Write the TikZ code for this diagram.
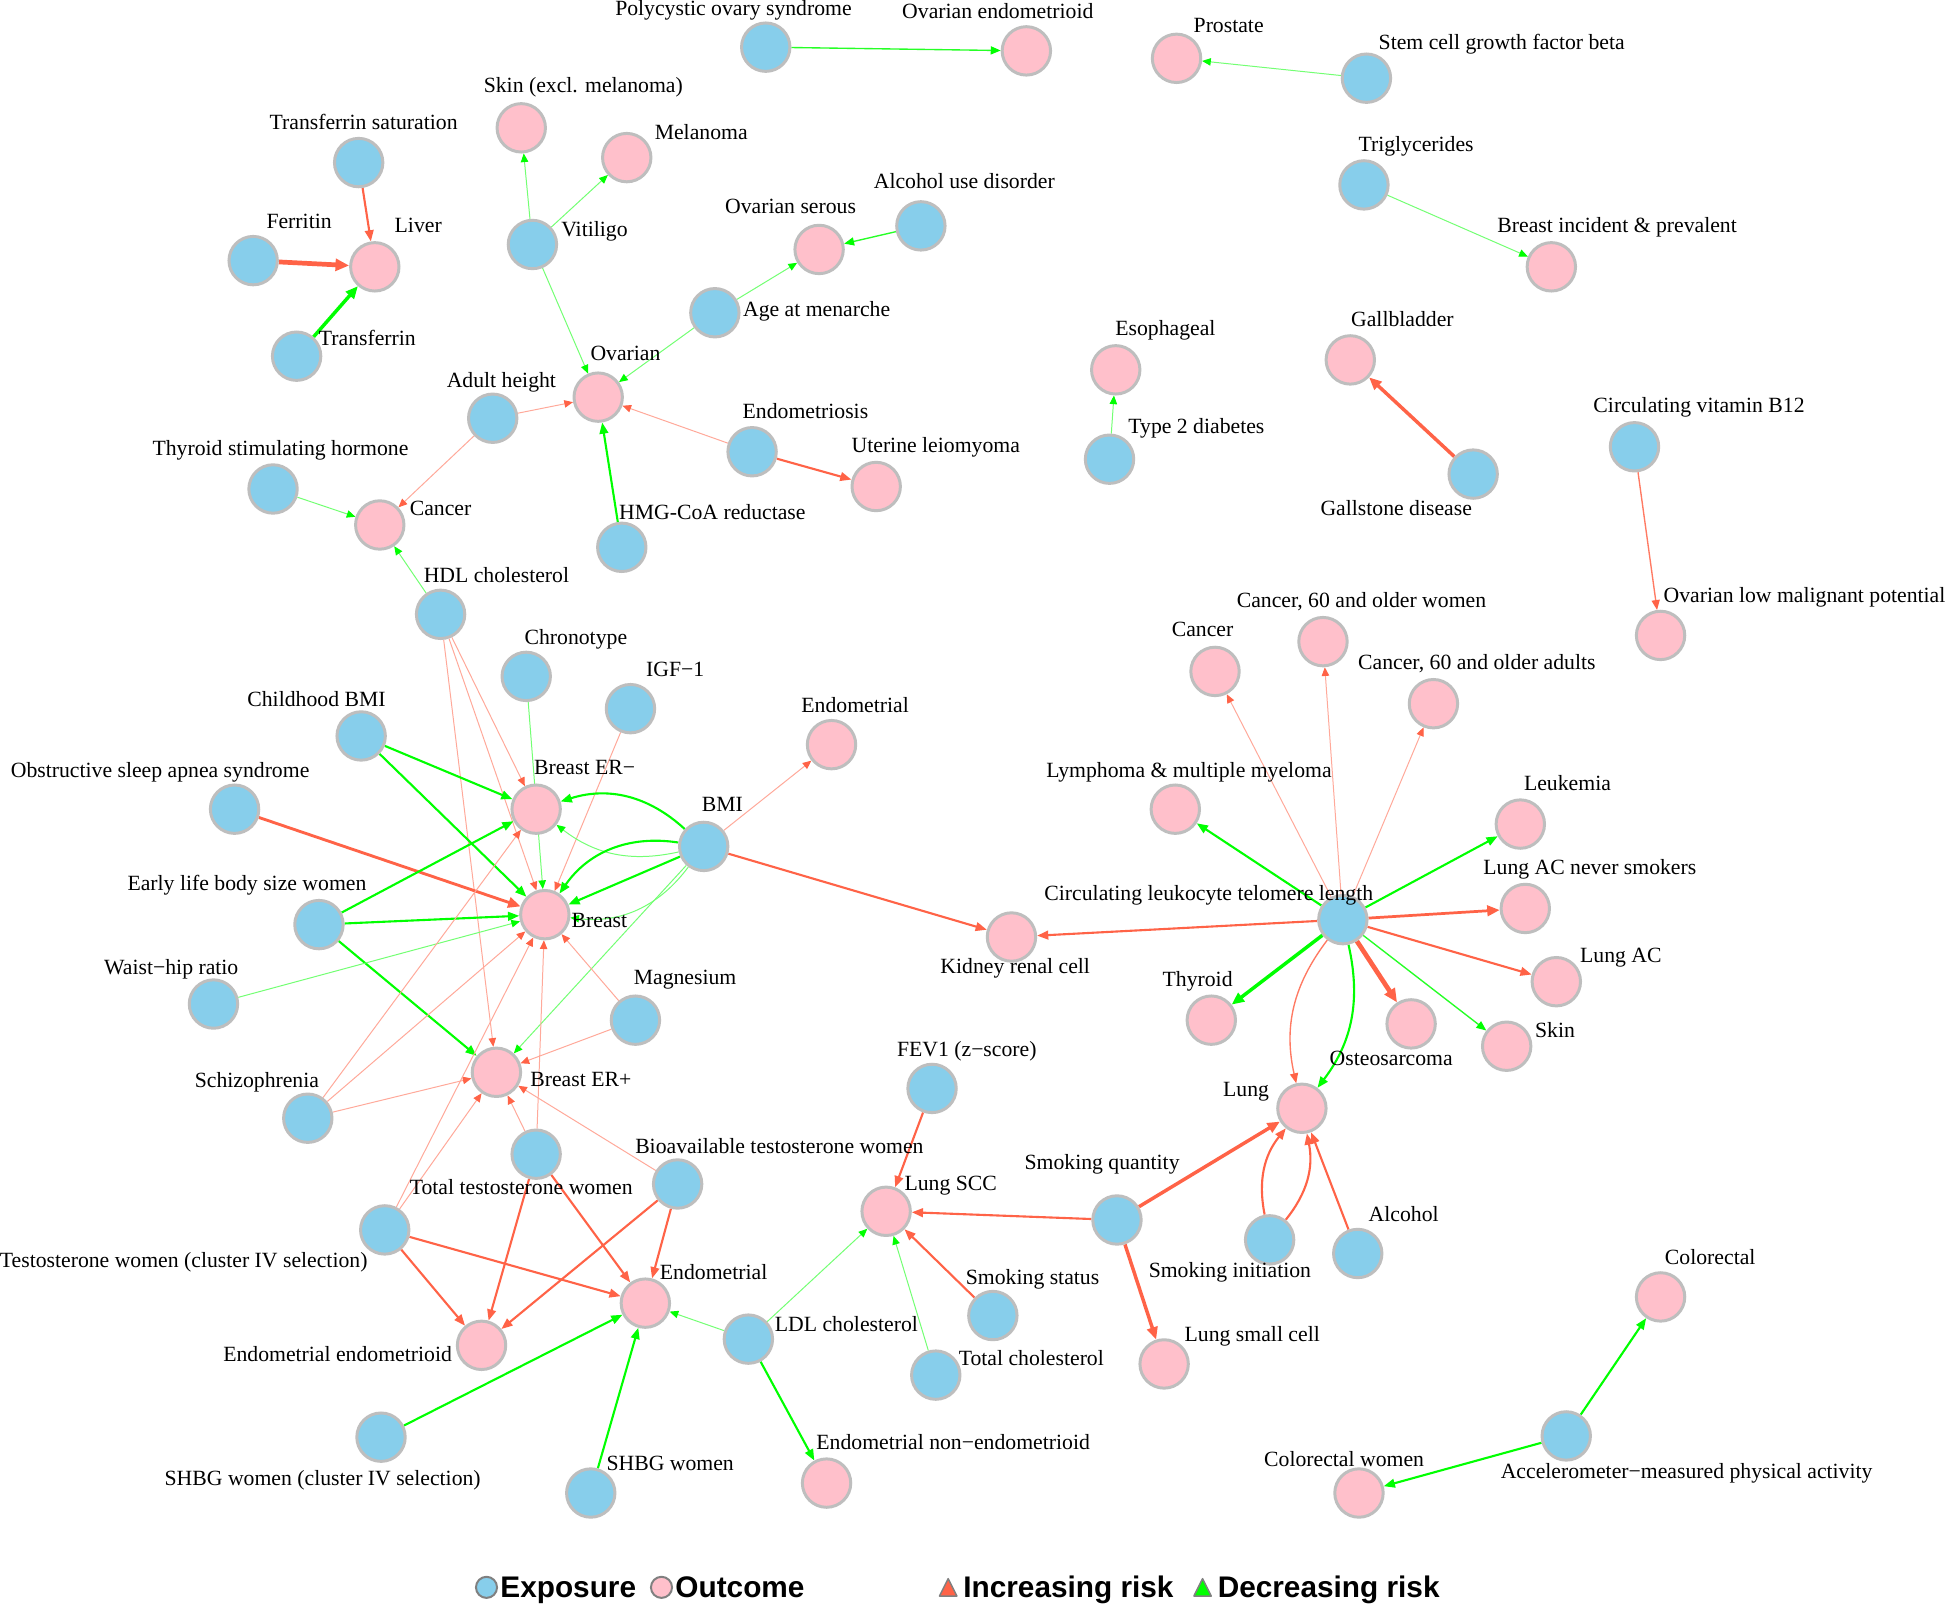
\documentclass[tikz,border=0pt]{standalone}
\usepackage{fontspec}
\setmainfont{Liberation Serif}
\newfontfamily\legfont{Liberation Sans}
\usetikzlibrary{arrows.meta}
\pgfdeclarelayer{bg}
\pgfsetlayers{bg,main}
\definecolor{skyb}{HTML}{87CEEB}
\definecolor{pinkc}{HTML}{FFC0CB}
\definecolor{tomatoc}{HTML}{FF6347}
\definecolor{limec}{HTML}{00FF00}
\definecolor{nodeg}{HTML}{BEBEBE}
\newcommand\mknode[5]{\node[#1] (#2) at (#3) {}; \node[lb] (#2l) at (#4) {#5};}
\begin{document}
\begin{tikzpicture}[x=1pt,y=-1pt,
  base/.style={circle, draw=nodeg, line width=2.4pt, minimum size=39pt, inner sep=0pt},
  ex/.style={base, fill=skyb},
  oc/.style={base, fill=pinkc},
  lb/.style={font=\fontsize{17.5}{20}\selectfont, inner sep=0pt, text height=12pt, text depth=3.5pt},
  rt/.style={draw=tomatoc!55, line width=0.8pt, -{Triangle[length=7pt,width=6pt,color=tomatoc]}},
  rs/.style={draw=tomatoc!85, line width=1.1pt, -{Triangle[length=8pt,width=6.5pt,color=tomatoc]}},
  rm/.style={draw=tomatoc, line width=1.7pt, -{Triangle[length=9pt,width=7pt]}},
  rk/.style={draw=tomatoc, line width=2.8pt, -{Triangle[length=10pt,width=8.5pt]}},
  rx/.style={draw=tomatoc, line width=3.8pt, -{Triangle[length=11pt,width=9.5pt]}},
  gt/.style={draw=limec!55, line width=0.8pt, -{Triangle[length=7pt,width=6pt,color=limec]}},
  gs/.style={draw=limec!85, line width=1.1pt, -{Triangle[length=8pt,width=6.5pt,color=limec]}},
  gm/.style={draw=limec, line width=1.7pt, -{Triangle[length=9pt,width=7pt]}},
  gk/.style={draw=limec, line width=2.8pt, -{Triangle[length=10pt,width=8.5pt]}},
  legtxt/.style={font=\legfont\bfseries\fontsize{24}{27}\selectfont, inner sep=0pt, anchor=base west}
]
\useasboundingbox (0,0) rectangle (1568,1292);
% exposures
\mknode{ex}{pcos}{617,38}{591,8}{Polycystic ovary syndrome}
\mknode{ex}{scgf}{1101,63}{1210,36}{Stem cell growth factor beta}
\mknode{ex}{tsat}{289,131}{293,100}{Transferrin saturation}
\mknode{ex}{vit}{429,197}{479,186}{Vitiligo}
\mknode{ex}{aud}{742,182}{777,148}{Alcohol use disorder}
\mknode{ex}{fer}{204,210}{241,180}{Ferritin}
\mknode{ex}{trf}{239,287}{296,274}{Transferrin}
\mknode{ex}{agm}{576,252}{658,251}{Age at menarche}
\mknode{ex}{trig}{1099,149}{1141,118}{Triglycerides}
\mknode{ex}{aht}{397,337}{404,308}{Adult height}
\mknode{ex}{tsh}{220,394}{226,363}{Thyroid stimulating hormone}
\mknode{ex}{endo}{606,364}{649,333}{Endometriosis}
\mknode{ex}{hmg}{501,441}{574,414}{HMG-CoA reductase}
\mknode{ex}{t2d}{894,370}{964,345}{Type 2 diabetes}
\mknode{ex}{gst}{1187,382}{1125,411}{Gallstone disease}
\mknode{ex}{b12}{1317,360}{1369,328}{Circulating vitamin B12}
\mknode{ex}{hdl}{355,495}{400,465}{HDL cholesterol}
\mknode{ex}{chr}{424,545}{464,515}{Chronotype}
\mknode{ex}{igf}{508,571}{544,541}{IGF−1}
\mknode{ex}{cbmi}{291,593}{255,565}{Childhood BMI}
\mknode{ex}{osa}{189,652}{129,622}{Obstructive sleep apnea syndrome}
\mknode{ex}{bmi}{567,682}{582,650}{BMI}
\mknode{ex}{els}{257,745}{199,713}{Early life body size women}
\mknode{ex}{whr}{172,809}{138,781}{Waist−hip ratio}
\mknode{ex}{mag}{512,822}{552,789}{Magnesium}
\mknode{ex}{tel}{1082,741}{974,721}{Circulating leukocyte telomere length}
\mknode{ex}{scz}{248,901}{207,872}{Schizophrenia}
\mknode{ex}{fev}{751,877}{779,847}{FEV1 (z−score)}
\mknode{ex}{ttw}{432,930}{420,958}{Total testosterone women}
\mknode{ex}{btw}{546,954}{628,925}{Bioavailable testosterone women}
\mknode{ex}{smq}{900,983}{888,938}{Smoking quantity}
\mknode{ex}{tiv}{310,991}{148,1017}{Testosterone women (cluster IV selection)}
\mknode{ex}{smi}{1023,999}{991,1025}{Smoking initiation}
\mknode{ex}{alc}{1094,1010}{1131,980}{Alcohol}
\mknode{ex}{sms}{800,1060}{832,1031}{Smoking status}
\mknode{ex}{ldl}{603,1079}{682,1069}{LDL cholesterol}
\mknode{ex}{tch}{754,1108}{831,1096}{Total cholesterol}
\mknode{ex}{shiv}{307,1158}{260,1193}{SHBG women (cluster IV selection)}
\mknode{ex}{shbg}{476,1203}{540,1181}{SHBG women}
\mknode{ex}{acc}{1262,1157}{1359,1187}{Accelerometer−measured physical activity}
% outcomes
\mknode{oc}{ovend}{827,41}{804,11}{Ovarian endometrioid}
\mknode{oc}{pros}{948,47}{990,22}{Prostate}
\mknode{oc}{skx}{420,103}{470,70}{Skin (excl. melanoma)}
\mknode{oc}{mel}{505,127}{565,108}{Melanoma}
\mknode{oc}{liv}{302,215}{337,183}{Liver}
\mknode{oc}{ovs}{660,201}{637,168}{Ovarian serous}
\mknode{oc}{bip}{1250,215}{1303,183}{Breast incident \& prevalent}
\mknode{oc}{eso}{899,298}{939,266}{Esophageal}
\mknode{oc}{gbl}{1088,290}{1130,259}{Gallbladder}
\mknode{oc}{ova}{482,320}{504,286}{Ovarian}
\mknode{oc}{ule}{706,392}{754,360}{Uterine leiomyoma}
\mknode{oc}{canl}{306,423}{355,411}{Cancer}
\mknode{oc}{canr}{979,541}{969,509}{Cancer}
\mknode{oc}{c60w}{1066,517}{1097,485}{Cancer, 60 and older women}
\mknode{oc}{c60a}{1155,567}{1190,535}{Cancer, 60 and older adults}
\mknode{oc}{olmp}{1338,512}{1454,481}{Ovarian low malignant potential}
\mknode{oc}{endt}{670,600}{689,570}{Endometrial}
\mknode{oc}{bern}{432,652}{471,620}{Breast ER−}
\mknode{oc}{lym}{947,652}{958,622}{Lymphoma \& multiple myeloma}
\mknode{oc}{leu}{1225,664}{1263,633}{Leukemia}
\mknode{oc}{brs}{439,737}{483,743}{Breast}
\mknode{oc}{lacn}{1229,732}{1281,700}{Lung AC never smokers}
\mknode{oc}{kid}{815,755}{818,780}{Kidney renal cell}
\mknode{oc}{lac}{1254,791}{1306,771}{Lung AC}
\mknode{oc}{thy}{976,822}{965,791}{Thyroid}
\mknode{oc}{ost}{1137,825}{1121,854}{Osteosarcoma}
\mknode{oc}{skn}{1214,843}{1253,832}{Skin}
\mknode{oc}{berp}{400,864}{468,871}{Breast ER+}
\mknode{oc}{lung}{1049,893}{1004,879}{Lung}
\mknode{oc}{lscc}{714,976}{766,955}{Lung SCC}
\mknode{oc}{endl}{520,1050}{575,1027}{Endometrial}
\mknode{oc}{eend}{388,1084}{272,1093}{Endometrial endometrioid}
\mknode{oc}{lsc}{938,1099}{1009,1077}{Lung small cell}
\mknode{oc}{col}{1338,1045}{1378,1015}{Colorectal}
\mknode{oc}{enen}{666,1195}{768,1164}{Endometrial non−endometrioid}
\mknode{oc}{colw}{1095,1203}{1083,1177}{Colorectal women}
% legend
\node[circle, draw=gray, line width=1.6pt, fill=skyb, minimum size=17pt, inner sep=0pt] (lgex) at (392,1279) {};
\node[legtxt] (lgext) at (403,1287.5) {Exposure};
\node[circle, draw=gray, line width=1.6pt, fill=pinkc, minimum size=17pt, inner sep=0pt] (lgoc) at (533,1279) {};
\node[legtxt] (lgoct) at (544,1287.5) {Outcome};
\draw[fill=tomatoc, draw=gray, line width=1.2pt, line join=round] (757,1286) -- (771,1286) -- (764,1272) -- cycle;
\node[legtxt] (lginc) at (776,1287.5) {Increasing risk};
\draw[fill=limec, draw=gray, line width=1.2pt, line join=round] (962,1286) -- (976,1286) -- (969,1272) -- cycle;
\node[legtxt] (lgdec) at (981,1287.5) {Decreasing risk};
% edges
\begin{pgfonlayer}{bg}
\fill[white] (0,0) rectangle (1568,1292);
\draw[gs] (pcos) -- (ovend);
\draw[gt] (scgf) -- (pros);
\draw[rm] (tsat) -- (liv);
\draw[rx] (fer) -- (liv);
\draw[gk] (trf) -- (liv);
\draw[gt] (vit) -- (skx);
\draw[gt] (vit) -- (mel);
\draw[gt] (vit) -- (ova);
\draw[gs] (aud) -- (ovs);
\draw[gt] (agm) -- (ovs);
\draw[gt] (agm) -- (ova);
\draw[gt] (trig) -- (bip);
\draw[rt] (aht) -- (ova);
\draw[rt] (aht) -- (canl);
\draw[rt] (endo) -- (ova);
\draw[rm] (endo) -- (ule);
\draw[gm] (hmg) -- (ova);
\draw[gt] (tsh) -- (canl);
\draw[gt] (hdl) -- (canl);
\draw[gt] (t2d) -- (eso);
\draw[rk] (gst) -- (gbl);
\draw[rs] (b12) -- (olmp);
\draw[rt] (hdl) -- (bern);
\draw[rt] (hdl) -- (brs);
\draw[rt] (hdl) -- (berp);
\draw[gt] (chr) -- (brs);
\draw[rt] (igf) -- (brs);
\draw[gm] (cbmi) -- (bern);
\draw[gm] (cbmi) -- (brs);
\draw[rk, line width=2.3pt] (osa) -- (brs);
\draw[gm] (bmi) to[bend right=30] (bern);
\draw[gt] (bmi) to[bend left=25] (bern);
\draw[gm] (bmi) to[bend right=32] (brs);
\draw[gm] (bmi) -- (brs);
\draw[gt] (bmi) to[bend left=30] (brs);
\draw[gt] (bmi) -- (berp);
\draw[rt] (bmi) -- (endt);
\draw[rm] (bmi) -- (kid);
\draw[gm] (els) -- (bern);
\draw[gm] (els) -- (brs);
\draw[gm] (els) -- (berp);
\draw[gt] (whr) -- (brs);
\draw[rt] (mag) -- (brs);
\draw[rt] (mag) -- (berp);
\draw[rt] (scz) -- (bern);
\draw[rt] (scz) -- (brs);
\draw[rt] (scz) -- (berp);
\draw[rt] (ttw) -- (brs);
\draw[rt] (ttw) -- (berp);
\draw[rm] (ttw) -- (endl);
\draw[rm] (ttw) -- (eend);
\draw[rt] (btw) -- (berp);
\draw[rm] (btw) -- (endl);
\draw[rm] (btw) -- (eend);
\draw[rt] (tiv) -- (brs);
\draw[rt] (tiv) -- (berp);
\draw[rm] (tiv) -- (endl);
\draw[rm] (tiv) -- (eend);
\draw[gm] (shiv) -- (endl);
\draw[gm] (shbg) -- (endl);
\draw[gt] (ldl) -- (endl);
\draw[gt] (ldl) -- (lscc);
\draw[gm] (ldl) -- (enen);
\draw[rm] (fev) -- (lscc);
\draw[rm] (sms) -- (lscc);
\draw[gt] (tch) -- (lscc);
\draw[rm] (smq) -- (lscc);
\draw[rk] (smq) -- (lung);
\draw[rk] (smq) -- (lsc);
\draw[rm] (smi) to[bend left=25] (lung);
\draw[rm] (smi) to[bend right=25] (lung);
\draw[rm] (alc) -- (lung);
\draw[rt] (tel) -- (canr);
\draw[rt] (tel) -- (c60w);
\draw[rt] (tel) -- (c60a);
\draw[gm] (tel) -- (lym);
\draw[gm] (tel) -- (leu);
\draw[rk, line width=2.2pt] (tel) -- (lacn);
\draw[rm] (tel) -- (kid);
\draw[rm] (tel) -- (lac);
\draw[gk] (tel) -- (thy);
\draw[rx] (tel) -- (ost);
\draw[gs] (tel) -- (skn);
\draw[rs] (tel) to[bend right=25] (lung);
\draw[gm] (tel) to[bend left=25] (lung);
\draw[gm] (acc) -- (col);
\draw[gm] (acc) -- (colw);
\end{pgfonlayer}
\end{tikzpicture}
\end{document}
